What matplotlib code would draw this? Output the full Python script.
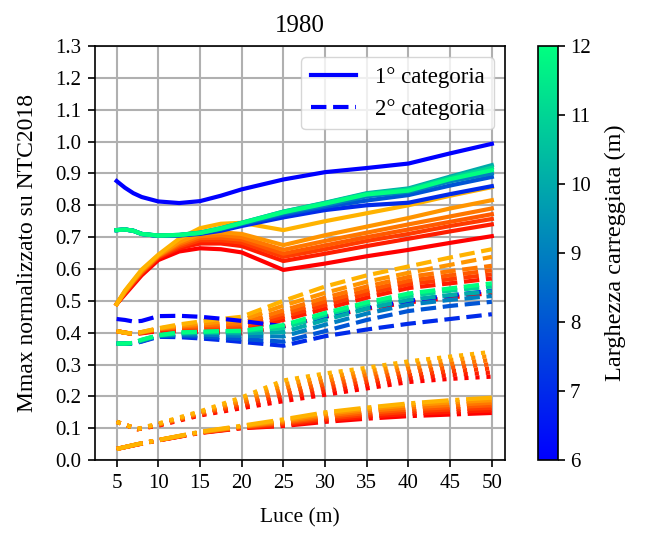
import matplotlib
matplotlib.use("Agg")
import matplotlib.pyplot as plt
import numpy as np
from matplotlib.lines import Line2D
from matplotlib.colors import Normalize
from matplotlib.cm import ScalarMappable

plt.rcParams['font.family'] = ['Liberation Serif', 'DejaVu Serif']
plt.rcParams['mathtext.fontset'] = 'stix'

# ---------------- data ----------------
title = "1980"
x_main = [5, 6, 7, 8, 10, 12.5, 15, 17.5, 20, 25, 30, 35, 40, 45, 50]
x_low = [5, 7.5, 10, 15, 20, 25, 30, 35, 40, 45, 50]
widths = [6, 7, 8, 9, 10, 11, 12]

# 1° categoria, blue-green family (one row per carriageway width 6..12 m)
cat1_winter = [
    [0.876, 0.855, 0.838, 0.826, 0.812, 0.807, 0.813, 0.830, 0.850, 0.881, 0.904, 0.917, 0.931, 0.963, 0.993],
    [0.722, 0.724, 0.720, 0.710, 0.704, 0.705, 0.710, 0.720, 0.735, 0.762, 0.785, 0.800, 0.808, 0.835, 0.860],
    [0.722, 0.724, 0.720, 0.710, 0.704, 0.706, 0.712, 0.724, 0.740, 0.770, 0.795, 0.815, 0.832, 0.862, 0.889],
    [0.722, 0.724, 0.720, 0.710, 0.704, 0.706, 0.713, 0.726, 0.742, 0.775, 0.800, 0.828, 0.842, 0.875, 0.900],
    [0.722, 0.724, 0.720, 0.710, 0.705, 0.707, 0.714, 0.728, 0.745, 0.780, 0.808, 0.838, 0.853, 0.890, 0.926],
    [0.722, 0.724, 0.720, 0.710, 0.705, 0.707, 0.714, 0.728, 0.745, 0.780, 0.807, 0.836, 0.850, 0.886, 0.918],
    [0.722, 0.724, 0.720, 0.710, 0.705, 0.707, 0.713, 0.727, 0.744, 0.778, 0.805, 0.834, 0.846, 0.882, 0.910],
]
# 1° categoria, red-orange family
cat1_autumn = [
    [0.490, 0.520, 0.550, 0.580, 0.628, 0.655, 0.665, 0.662, 0.652, 0.597, 0.617, 0.640, 0.660, 0.682, 0.703],
    [0.490, 0.525, 0.555, 0.585, 0.635, 0.665, 0.680, 0.680, 0.672, 0.625, 0.648, 0.672, 0.695, 0.718, 0.740],
    [0.490, 0.525, 0.557, 0.588, 0.637, 0.670, 0.690, 0.690, 0.683, 0.638, 0.662, 0.688, 0.710, 0.735, 0.757],
    [0.490, 0.527, 0.560, 0.590, 0.640, 0.675, 0.697, 0.698, 0.692, 0.648, 0.674, 0.700, 0.724, 0.748, 0.772],
    [0.490, 0.528, 0.562, 0.592, 0.641, 0.680, 0.703, 0.706, 0.700, 0.660, 0.688, 0.714, 0.740, 0.765, 0.790],
    [0.490, 0.530, 0.563, 0.595, 0.643, 0.685, 0.710, 0.715, 0.710, 0.675, 0.706, 0.733, 0.760, 0.790, 0.816],
    [0.490, 0.532, 0.565, 0.598, 0.645, 0.695, 0.728, 0.742, 0.745, 0.722, 0.750, 0.775, 0.800, 0.830, 0.857],
]
# 2° categoria, blue-green family
cat2_winter = [
    [0.443, 0.440, 0.435, 0.437, 0.452, 0.453, 0.450, 0.444, 0.437, 0.420, 0.450, 0.478, 0.500, 0.517, 0.532],
    [0.366, 0.366, 0.366, 0.372, 0.387, 0.386, 0.382, 0.377, 0.371, 0.359, 0.389, 0.410, 0.428, 0.443, 0.458],
    [0.366, 0.366, 0.366, 0.373, 0.389, 0.390, 0.388, 0.384, 0.380, 0.372, 0.405, 0.440, 0.468, 0.484, 0.497],
    [0.366, 0.366, 0.367, 0.375, 0.390, 0.394, 0.394, 0.392, 0.390, 0.388, 0.425, 0.460, 0.488, 0.503, 0.515],
    [0.366, 0.366, 0.367, 0.376, 0.391, 0.397, 0.399, 0.399, 0.398, 0.402, 0.440, 0.475, 0.503, 0.518, 0.530],
    [0.366, 0.366, 0.368, 0.377, 0.392, 0.400, 0.402, 0.404, 0.404, 0.415, 0.455, 0.488, 0.515, 0.532, 0.545],
    [0.366, 0.366, 0.368, 0.378, 0.392, 0.401, 0.403, 0.405, 0.406, 0.424, 0.462, 0.495, 0.523, 0.539, 0.555],
]
# 2° categoria, red-orange family
cat2_autumn = [
    [0.405, 0.400, 0.396, 0.398, 0.405, 0.405, 0.402, 0.400, 0.398, 0.420, 0.450, 0.475, 0.495, 0.510, 0.525],
    [0.405, 0.400, 0.396, 0.399, 0.408, 0.410, 0.410, 0.410, 0.410, 0.440, 0.475, 0.510, 0.540, 0.555, 0.570],
    [0.405, 0.400, 0.396, 0.400, 0.410, 0.413, 0.415, 0.416, 0.418, 0.450, 0.487, 0.522, 0.552, 0.568, 0.583],
    [0.405, 0.400, 0.396, 0.400, 0.411, 0.416, 0.419, 0.421, 0.424, 0.460, 0.498, 0.533, 0.563, 0.580, 0.596],
    [0.405, 0.400, 0.397, 0.401, 0.412, 0.419, 0.423, 0.427, 0.430, 0.470, 0.510, 0.545, 0.575, 0.593, 0.610],
    [0.405, 0.400, 0.397, 0.402, 0.413, 0.422, 0.428, 0.434, 0.440, 0.485, 0.525, 0.560, 0.588, 0.613, 0.638],
    [0.405, 0.400, 0.397, 0.402, 0.414, 0.426, 0.435, 0.443, 0.450, 0.500, 0.545, 0.580, 0.608, 0.636, 0.662],
]
# dotted family
dotted_autumn = [
    [0.120, 0.097, 0.108, 0.140, 0.163, 0.185, 0.205, 0.225, 0.245, 0.255, 0.262],
    [0.120, 0.097, 0.109, 0.142, 0.168, 0.196, 0.216, 0.236, 0.256, 0.267, 0.275],
    [0.120, 0.097, 0.110, 0.144, 0.173, 0.206, 0.227, 0.246, 0.266, 0.279, 0.288],
    [0.120, 0.097, 0.111, 0.146, 0.178, 0.216, 0.238, 0.257, 0.277, 0.291, 0.301],
    [0.120, 0.097, 0.112, 0.148, 0.184, 0.227, 0.249, 0.268, 0.288, 0.302, 0.314],
    [0.120, 0.098, 0.113, 0.150, 0.190, 0.238, 0.260, 0.279, 0.299, 0.314, 0.327],
    [0.120, 0.098, 0.115, 0.153, 0.197, 0.250, 0.272, 0.290, 0.310, 0.325, 0.340],
]
# dash-dot family
dashdot_autumn = [
    [0.035, 0.049, 0.062, 0.085, 0.100, 0.107, 0.120, 0.130, 0.138, 0.143, 0.148],
    [0.035, 0.049, 0.062, 0.086, 0.101, 0.110, 0.125, 0.136, 0.145, 0.151, 0.156],
    [0.035, 0.049, 0.062, 0.086, 0.102, 0.114, 0.130, 0.142, 0.152, 0.159, 0.164],
    [0.035, 0.050, 0.063, 0.087, 0.104, 0.117, 0.135, 0.148, 0.159, 0.166, 0.172],
    [0.035, 0.050, 0.063, 0.087, 0.105, 0.120, 0.140, 0.154, 0.165, 0.173, 0.180],
    [0.035, 0.050, 0.063, 0.088, 0.106, 0.124, 0.145, 0.160, 0.172, 0.181, 0.188],
    [0.035, 0.050, 0.063, 0.089, 0.108, 0.128, 0.150, 0.165, 0.178, 0.188, 0.196],
]

x_ticks = [5, 10, 15, 20, 25, 30, 35, 40, 45, 50]
y_ticks = [round(0.1 * i, 1) for i in range(14)]
legend_labels = ["1° categoria", "2° categoria"]
x_label = "Luce (m)"
y_label = "Mmax normalizzato su NTC2018"
cbar_label = "Larghezza carreggiata (m)"

# ---------------- plot ----------------
LW = 3.0
fig = plt.figure(figsize=(6.46, 5.35), dpi=100)
ax = fig.add_axes([0.147, 0.140, 0.635, 0.774])
cax = fig.add_axes([0.833, 0.140, 0.031, 0.774])

norm = Normalize(vmin=min(widths), vmax=max(widths))
winter = plt.get_cmap('winter')
autumn = plt.get_cmap('autumn')
autumn_cols = [autumn(v) for v in np.linspace(0, 0.7, len(widths))]

for rows, ls, xs in [(dashdot_autumn, '-.', x_low), (dotted_autumn, ':', x_low)]:
    for i, row in enumerate(rows):
        ax.plot(xs, row, ls=ls, color=autumn_cols[i], lw=LW)

for i, row in enumerate(cat2_autumn):
    ax.plot(x_main, row, ls='--', color=autumn_cols[i], lw=LW)
for i, row in enumerate(cat1_autumn):
    ax.plot(x_main, row, ls='-', color=autumn_cols[i], lw=LW)
for i, row in enumerate(cat2_winter):
    ax.plot(x_main, row, ls='--', color=winter(norm(widths[i])), lw=LW)
for i, row in enumerate(cat1_winter):
    ax.plot(x_main, row, ls='-', color=winter(norm(widths[i])), lw=LW)

ax.set_xlim(2.4, 51.6)
ax.set_ylim(0, 1.3)
ax.set_xticks(x_ticks)
ax.set_yticks(y_ticks)
ax.set_yticklabels([f"{v:.1f}" for v in y_ticks])
ax.grid(True, color='#b0b0b0', lw=1.5)
ax.set_axisbelow(True)
ax.tick_params(axis='x', labelsize=15, length=5, width=1.2, pad=5)
ax.tick_params(axis='y', labelsize=15, length=5, width=1.2, pad=5)
for s in ax.spines.values():
    s.set_linewidth(1.2)
ax.set_xlabel(x_label, fontsize=15.5, labelpad=11)
ax.set_ylabel(y_label, fontsize=17, labelpad=12)
ax.set_title(title, fontsize=18, pad=10)

handles = [Line2D([], [], color=winter(0.0), lw=LW, ls='-'),
           Line2D([], [], color=winter(0.0), lw=LW, ls='--')]
ax.legend(handles, legend_labels, loc='upper right', fontsize=16.5)

sm = ScalarMappable(norm=norm, cmap=winter)
cb = fig.colorbar(sm, cax=cax)
cb.set_ticks(widths)
cb.ax.tick_params(labelsize=15, length=5, width=1.2)
cb.set_label(cbar_label, fontsize=17.5, labelpad=10)
cb.outline.set_linewidth(1.2)

fig.savefig("out.png", dpi=100)
